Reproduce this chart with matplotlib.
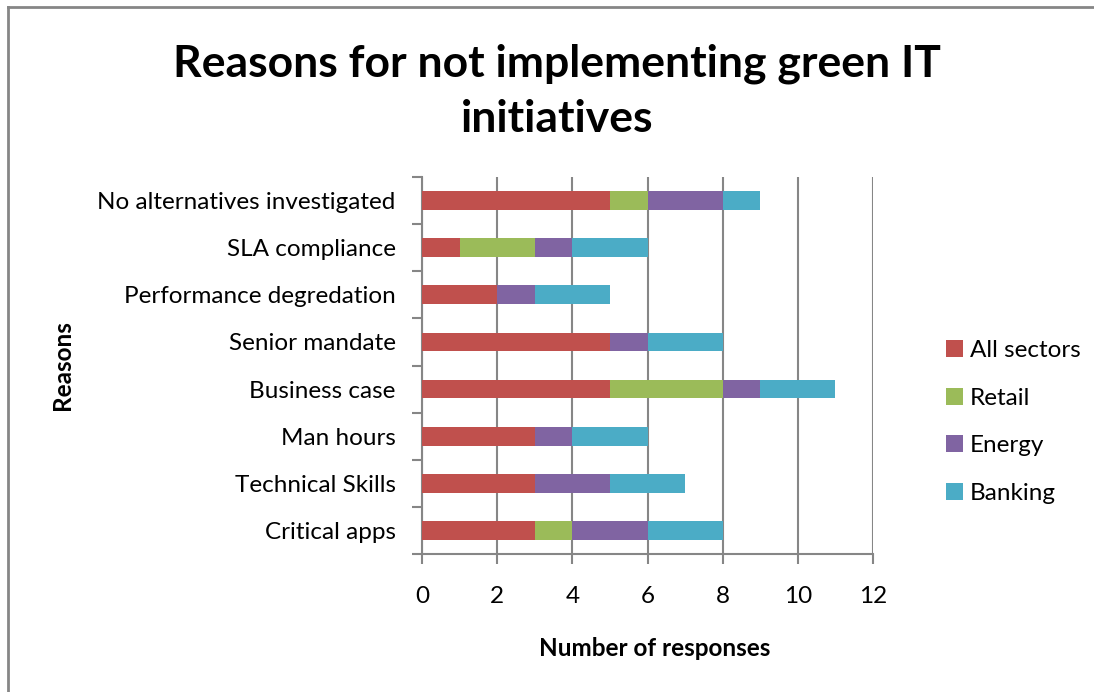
import numpy as np
import matplotlib
matplotlib.use("Agg")
import matplotlib.pyplot as plt

# ================================================================
# Data (bottom to top as drawn)
# ================================================================
reasons = ["Critical apps", "Technical Skills", "Man hours", "Business case",
           "Senior mandate", "Performance degredation", "SLA compliance",
           "No alternatives investigated"]
all_sectors = [3, 3, 3, 5, 5, 2, 1, 5]
retail = [1, 0, 0, 3, 0, 0, 2, 1]
energy = [2, 2, 1, 1, 1, 1, 1, 2]
banking = [2, 2, 2, 2, 2, 2, 2, 1]

series_names = ["All sectors", "Retail", "Energy", "Banking"]
colors = ["#C0504D", "#9BBB59", "#8064A2", "#4BACC6"]

plt.rcParams["font.family"] = ["Lato", "DejaVu Sans"]

fig = plt.figure(figsize=(10.94, 6.92), dpi=100)
W, H = 1094, 692
ax = fig.add_axes([422 / W, 1 - 554 / H, (873 - 422) / W, (554 - 177) / H])

# ================================================================
# Stacked bars
# ================================================================
y = np.arange(len(reasons))
left = np.zeros(len(reasons))
for name, vals, c in zip(series_names, [all_sectors, retail, energy, banking], colors):
    ax.barh(y, vals, left=left, height=0.4, color=c, label=name, zorder=3)
    left += np.array(vals)

ax.set_xlim(0, 12)
ax.set_ylim(-0.5, len(reasons) - 0.5)
ax.set_xticks(np.arange(0, 13, 2))
ax.set_yticks(y)
ax.set_yticklabels(reasons, fontsize=17.5)
ax.set_yticks(np.arange(-0.5, len(reasons), 1), minor=True)
ax.tick_params(axis="y", which="major", length=0, pad=19)
ax.tick_params(axis="y", which="minor", length=7, color="#868686", width=1.5)
ax.tick_params(axis="x", length=7, color="#868686", width=1.5, labelsize=17.5, pad=16)

ax.grid(axis="x", color="#868686", linewidth=1.5, zorder=0)
for s in ["top", "right"]:
    ax.spines[s].set_visible(False)
for s in ["left", "bottom"]:
    ax.spines[s].set_color("#868686")
    ax.spines[s].set_linewidth(1.5)

# ================================================================
# Text
# ================================================================
fig.text(557 / W, 1 - 91 / H, "Reasons for not implementing green IT\ninitiatives",
         ha="center", va="center", fontsize=32, fontweight="bold", linespacing=1.45)
fig.text(62 / W, 1 - 365 / H, "Reasons", rotation=90, ha="center", va="center",
         fontsize=17.5, fontweight="bold")
fig.text(655 / W, 1 - 648 / H, "Number of responses", ha="center", va="center",
         fontsize=17.5, fontweight="bold")

ax.legend(loc="center left", bbox_to_anchor=(924 / W, 1 - 422 / H),
          bbox_transform=fig.transFigure, frameon=False, fontsize=17.5,
          handlelength=0.7, handleheight=0.7, handletextpad=0.3, labelspacing=1.1)

# figure border (top and left)
fig.add_artist(plt.Line2D([8 / W, 1], [1 - 7 / H, 1 - 7 / H], color="#868686",
                          linewidth=2, transform=fig.transFigure))
fig.add_artist(plt.Line2D([8 / W, 8 / W], [0, 1 - 7 / H], color="#868686",
                          linewidth=2, transform=fig.transFigure))

fig.savefig("out.png", dpi=100)
